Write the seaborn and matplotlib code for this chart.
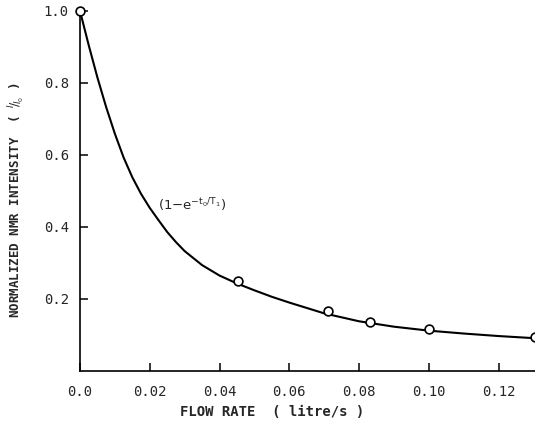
import matplotlib
matplotlib.use('Agg')
import matplotlib.pyplot as plt
import seaborn as sns
import pandas as pd

# measured points (flow rate in litre/s, normalized intensity)
flow_pts = [0.0, 0.0453, 0.0711, 0.0831, 0.100, 0.1304]
intensity_pts = [1.0, 0.25, 0.166, 0.135, 0.116, 0.093]

# fitted curve
curve_flow = [0.0, 0.0025, 0.005, 0.0075, 0.010, 0.0125, 0.015, 0.0175, 0.020,
              0.0225, 0.025, 0.0275, 0.030, 0.035, 0.040, 0.045, 0.050, 0.055,
              0.060, 0.065, 0.070, 0.080, 0.090, 0.100, 0.110, 0.120, 0.1304]
curve_intensity = [1.0, 0.905, 0.815, 0.733, 0.659, 0.593, 0.538, 0.492, 0.453,
                   0.419, 0.386, 0.358, 0.333, 0.294, 0.265, 0.243, 0.224, 0.206,
                   0.190, 0.175, 0.160, 0.138, 0.123, 0.112, 0.104, 0.097, 0.091]

x_ticks = [0.0, 0.02, 0.04, 0.06, 0.08, 0.10, 0.12]
x_ticklabels = ['0.0', '0.02', '0.04', '0.06', '0.08', '0.10', '0.12']
y_ticks = [0.2, 0.4, 0.6, 0.8, 1.0]
y_ticklabels = ['0.2', '0.4', '0.6', '0.8', '1.0']

pts = pd.DataFrame({'flow': flow_pts, 'intensity': intensity_pts})
curve = pd.DataFrame({'flow': curve_flow, 'intensity': curve_intensity})

sns.set_style('ticks')
plt.rcParams['font.family'] = ['DejaVu Sans Mono', 'DejaVu Sans']

fig = plt.figure(figsize=(5.35, 4.22), dpi=100)
ax = fig.add_axes([0.1495, 0.1209, 1 - 0.1495, 0.974 - 0.1209])

sns.lineplot(data=curve, x='flow', y='intensity', color='black', lw=1.5, ax=ax)
sns.scatterplot(data=pts, x='flow', y='intensity', s=40, facecolor='white',
                edgecolor='black', linewidth=1.2, zorder=5, clip_on=False, ax=ax)

ax.set_xlim(0, 0.1304)
ax.set_ylim(0, 1.0)
ax.set_xticks(x_ticks)
ax.set_xticklabels(x_ticklabels)
ax.set_yticks(y_ticks)
ax.set_yticklabels(y_ticklabels)
ax.tick_params(direction='in', length=6, width=1.1, labelsize=10, pad=8, color='black')
ax.tick_params(axis='x', pad=10)

for s in ['top', 'right']:
    ax.spines[s].set_visible(False)
for s in ['left', 'bottom']:
    ax.spines[s].set_linewidth(1.2)
    ax.spines[s].set_color('black')

ax.set_xlabel('')
ax.set_ylabel('')
fig.text(0.508, 0.024, 'FLOW RATE  ( litre/s )', ha='center', va='center',
         fontsize=10, fontweight='bold')
fig.text(0.032, 0.526, r'NORMALIZED NMR INTENSITY  ( $^{I}\!/\!_{I_0}$ )',
         ha='center', va='center', rotation=90, fontsize=9, fontweight='bold')
ax.text(0.0224, 0.46, r'$(1\mathrm{-e}^{-\mathrm{t}_0/\mathrm{T}_1})$', fontsize=9.5,
        ha='left', va='center')

fig.savefig('out.png', dpi=100)
